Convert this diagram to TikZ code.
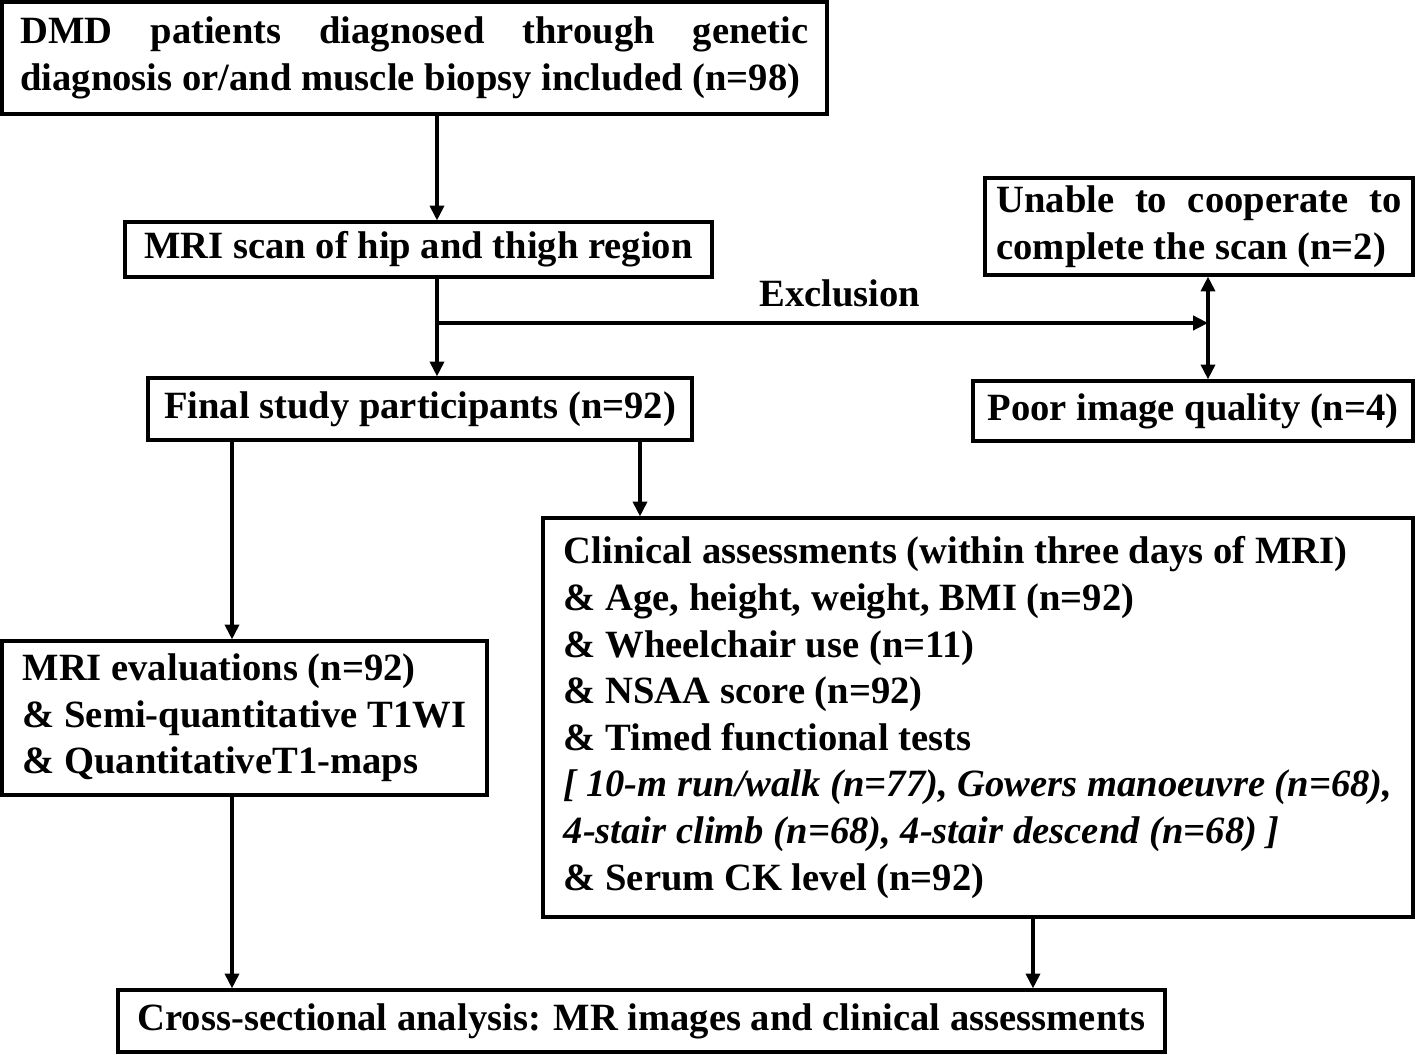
\documentclass[tikz,border=0pt]{standalone}
\usepackage{fontspec}
\setmainfont{Liberation Serif}
\usetikzlibrary{arrows.meta, positioning}

\begin{document}
\begin{tikzpicture}[x=0.311pt, y=-0.311pt,
                    box/.style = {draw, line width=1pt, inner sep=0pt,
                                  font=\bfseries\fontsize{12}{14.5}\selectfont},
                    tip/.style = {-{Triangle[length=4.6pt, width=4.4pt]}}]
                    \useasboundingbox (0,0) rectangle (1416,1055);

                    \node (dmd) [box, minimum width=256.6pt, minimum height=34.8pt, text width=245.1pt, align=justify] at (414.5,58)
                        {DMD patients diagnosed through genetic\linebreak diagnosis or/and muscle biopsy included (n=98)};
                    \node (scan) [box, minimum width=182.6pt, minimum height=17.1pt] at (418.5,249.5) {MRI scan of hip and thigh region};
                    \node (unable) [box, minimum width=133.1pt, minimum height=30.2pt, text width=126pt, align=justify] at (1199,226.5)
                        {Unable to cooperate to\linebreak complete the scan (n=2)};
                    \node (final) [box, minimum width=169.2pt, minimum height=19.3pt] at (420,409) {Final study participants (n=92)};
                    \node (poor) [box, minimum width=136.8pt, minimum height=18.7pt] at (1193,411) {Poor image quality (n=4)};
                    \node (eval) [box, minimum width=150.8pt, minimum height=47.9pt, align=left] at (244.5,718)
                        {MRI evaluations (n=92)\\ \& Semi-quantitative T1WI\\ \& QuantitativeT1-maps};
                    \node (clin) [box, minimum width=270.6pt, minimum height=124.1pt, align=left] at (978,717.5)
                        {Clinical assessments (within three days of MRI)\\
                         \& Age, height, weight, BMI (n=92)\\
                         \& Wheelchair use (n=11)\\
                         \& NSAA score (n=92)\\
                         \& Timed functional tests\\
                         {\itshape [ 10-m run/walk (n=77), Gowers manoeuvre (n=68),}\\
                         {\itshape 4-stair climb (n=68), 4-stair descend (n=68) ]}\\
                         \& Serum CK level (n=92)};
                    \node (cross) [box, minimum width=325.6pt, minimum height=19.3pt] at (641.5,1021)
                        {Cross-sectional analysis: MR images and clinical assessments};
                    \node (excl) [font=\bfseries\fontsize{12}{14.5}\selectfont] at (840,293) {Exclusion};

                    % where the connectors run
                    \coordinate (spine) at (437,0);
                    \coordinate (split) at (437,323);
                    \coordinate (side) at (1208,0);
                    \coordinate (left) at (232,0);
                    \coordinate (mid) at (640,0);
                    \coordinate (right) at (1033,0);

                    \path [tip, line width=1pt]
                        (dmd.south -| spine) edge (scan.north -| spine)
                        (scan.south -| spine) edge (final.north -| spine)
                        (split) edge (split -| side)
                        (final.south -| left) edge (eval.north -| left)
                        (final.south -| mid) edge (clin.north -| mid)
                        (eval.south -| left) edge (cross.north -| left)
                        (clin.south -| right) edge (cross.north -| right);
                    \draw [{Triangle[length=4.6pt, width=4.4pt]}-{Triangle[length=4.6pt, width=4.4pt]}, line width=1pt]
                        (unable.south -| side) -- (poor.north -| side);
                \end{tikzpicture}
\end{document}
